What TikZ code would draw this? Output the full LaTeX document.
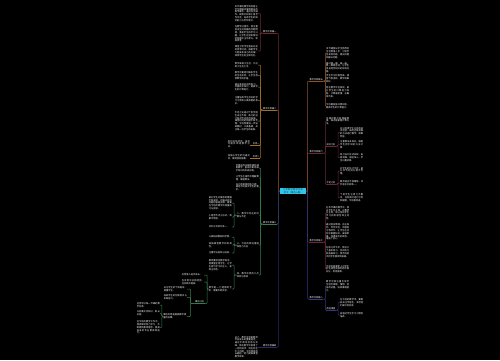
\documentclass[tikz,border=0pt]{standalone}
\usepackage{fontspec}
\newfontfamily\cjk{Noto Sans CJK SC}
\XeTeXlinebreaklocale "zh"
\XeTeXlinebreakskip=0pt plus 0.6pt
\definecolor{cA}{HTML}{6E2A2A}
\definecolor{cB}{HTML}{A0702A}
\definecolor{cC}{HTML}{357F4E}
\definecolor{cD}{HTML}{2A2A66}
\definecolor{cRA}{HTML}{8E5228}
\definecolor{cRB}{HTML}{662836}
\definecolor{cRC}{HTML}{702242}
\definecolor{cRD}{HTML}{363684}
\definecolor{ctrbg}{HTML}{2EC8EE}
\tikzset{
 blk/.style={text width=23pt, align=justify, inner sep=0pt, font=\cjk\fontsize{2.25}{2.8}\selectfont, text=white},
 lab/.style={inner sep=0.4pt, font=\cjk\fontsize{2.2}{2.8}\selectfont, text=white},
 ln/.style={line width=0.5pt, rounded corners=0.8pt},
}
\begin{document}
\begin{tikzpicture}[x=1pt,y=-1pt]
\fill[black] (0,0) rectangle (500,360);
\useasboundingbox (0,0) rectangle (500,360);

% centre
\node[fill=ctrbg, text width=24pt, align=center, inner sep=1pt, font=\cjk\fontsize{2.2}{2.8}\selectfont, text=black!85] (ctr) at (293,191) {小学数学教学反思范文（精选8篇）};

% ---------- left group A ----------
\node[lab, anchor=south east] (LA) at (277,33) {教学反思篇一};
\node[blk, anchor=east] (a1) at (258,13.5) {本节课的教学目标是让学生理解并掌握相关的数学概念，通过动手操作、观察比较和小组合作交流，培养学生的探究能力与合作意识。};
\node[blk, anchor=east] (a2) at (258,34) {在教学过程中，我注重创设生动有趣的问题情境，激发学生的学习兴趣，让学生在轻松愉快的氛围中主动参与、积极思考。};
\node[blk, anchor=east] (a3) at (258,51) {课堂上给学生留出充足的思考时间，鼓励学生大胆发表自己的见解，体现学生的主体地位。};

% ---------- left group B ----------
\node[lab, anchor=south east] (LB) at (277,110) {教学反思篇二};
\node[blk, anchor=east] (b1) at (258,65) {数学来源于生活，又应用于生活之中。};
\node[blk, anchor=east] (b2) at (258,75.5) {教学中要密切联系学生的生活实际，让学生感受数学的价值。};
\node[blk, anchor=east] (b3) at (258,87) {通过多种形式的练习，巩固所学知识，提高学生的计算能力。};
\node[blk, anchor=east] (b4) at (258,100.5) {注重培养学生良好的学习习惯和认真审题的意识。};
\node[blk, anchor=east] (b5) at (258,121) {不足之处是对个别学困生关注不够，练习的设计层次性还有待加强，课堂时间的把握不够合理。今后我要进一步钻研教材，认真备课，关注每一位学生的发展。};
\node[lab, anchor=south east] (b6) at (260,145) {反思一};
\node[blk, text width=22pt, anchor=east] (b6c) at (250,144) {及时总结经验，发现问题并改进教学方法。};
\node[lab, anchor=south east] (b7) at (260,158) {反思二};
\node[blk, text width=22pt, anchor=east] (b7c) at (250,157) {加强与学生的沟通交流，做到因材施教。};

% ---------- left group C ----------
\node[lab, anchor=south east] (LC) at (277,224) {教学反思篇三};
\node[blk, anchor=east] (c1) at (259,168) {合理运用多媒体课件辅助教学，直观形象地展示知识的形成过程。};
\node[blk, anchor=east] (c2) at (259,178) {让学生在操作中理解算理，掌握算法。};
\node[blk, anchor=east] (c3) at (259,187) {设计有梯度的练习题，满足不同层次学生的需求。};
\node[blk, text width=22pt, anchor=east] (c4) at (259,215) {二、教学中存在的问题与不足};
\node[blk, anchor=east] (c41) at (232,203) {部分学生对概念的理解不够深刻，在解决实际问题时容易出错，需要在今后的教学中加强练习与指导。};
\node[blk, anchor=east] (c42) at (232,217) {小组合作流于形式，效果不明显。};
\node[blk, anchor=east] (c43) at (232,227) {评价方式较为单一。};
\node[blk, text width=22pt, anchor=east] (c5) at (259,245) {三、今后的改进措施和努力方向};
\node[blk, anchor=east] (c51) at (232,237) {认真钻研教材和学情。};
\node[blk, anchor=east] (c52) at (232,245) {加强课堂教学的有效性。};
\node[blk, anchor=east] (c53) at (232,253) {注重学法指导与培养。};
\node[blk, text width=22pt, anchor=east] (c6) at (259,275) {四、教学反思的几点体会与收获};
\node[blk, anchor=east] (c61) at (232,265) {教师要转变教学观念，把课堂还给学生，让学生成为学习的主人，发挥主动性。};
\node[blk, anchor=east] (c62) at (232,289) {教学是一门遗憾的艺术，需要不断反思。};
\node[blk, text width=22pt, anchor=east] (c621) at (204,275) {反思使人进步成长。};
\node[blk, text width=22pt, anchor=east] (c622) at (204,282) {在反思中总结经验，在实践中提高。};
\node[lab, anchor=south east] (c623) at (204.5,303.5) {课后小结};
\node[blk, anchor=east] (e1) at (187,289) {关注学生的个体差异，尊重学生。};
\node[blk, anchor=east] (e2) at (187,297.5) {培养学生的创新意识与实践能力。};
\node[blk, anchor=east] (e3) at (186.5,316.5) {课后反思是提高教学质量的关键。};
\node[blk, anchor=east] (f1) at (160,305) {坚持写好每一节课的教学反思。};
\node[blk, anchor=east] (f2) at (160,313.5) {与同事交流研讨，取长补短。};
\node[blk, anchor=east] (f3) at (160,327.5) {在今后的教学工作中，我将继续努力学习，不断更新教育理念，提高自身的专业素养和能力。};

% ---------- left group D ----------
\node[lab, anchor=south east] (LD) at (277,347) {教学反思篇四};
\node[blk, anchor=east] (d1) at (258,347) {总之，教学反思是教师专业成长的重要途径，通过不断地反思与实践，我在教学中取得了一定的进步，但也存在不少问题，今后我将扬长避短，努力提高课堂教学效率。};

% ---------- right group RA ----------
\node[lab, anchor=south west] (RA) at (309,81) {教学反思篇五};
\node[blk, anchor=west] (ra1) at (326,53) {本节课我从学生熟悉的生活情境入手，引导学生发现问题、提出问题并解决问题。};
\node[blk, anchor=west] (ra2) at (326,67.5) {通过摆一摆、画一画、算一算等活动，让学生亲身经历知识的形成过程。};
\node[blk, anchor=west] (ra3) at (326,78.5) {学生学习积极性高，课堂气氛活跃，教学效果较好。};
\node[blk, anchor=west] (ra4) at (326,92) {但在教学中也发现，部分学生的口算能力较弱，计算速度慢，正确率不高。};
\node[blk, anchor=west] (ra5) at (326,106.5) {今后要加强口算训练，提高学生的计算能力。};

% ---------- right group RB ----------
\node[lab, anchor=south west] (RB) at (309,153) {教学反思篇六};
\node[blk, anchor=west] (rb1) at (326,121) {本课的重点是理解算理，难点是掌握计算方法。};
\node[lab, anchor=south west] (rb2) at (326,146) {成功之处};
\node[blk, anchor=west] (rb21) at (340,132.5) {充分利用学生已有的知识经验，采用迁移类推的方法进行教学，效果明显。};
\node[blk, anchor=west] (rb22) at (340,144.5) {注重算法多样化，鼓励学生用不同的方法计算。};
\node[blk, anchor=west] (rb23) at (340,157.5) {练习设计形式多样，由易到难，层层深入，学生兴趣浓厚。};
\node[lab, anchor=south west] (rb3) at (326,184) {不足之处};
\node[blk, anchor=west] (rb31) at (340,171) {对学生的估计不足，部分环节时间分配不合理。};
\node[blk, anchor=west] (rb32) at (340,183) {教师语言不够精练，评价语言比较单一。};
\node[blk, anchor=west] (rb33) at (340,197.5) {个别学生注意力不集中，没有及时进行引导和提醒，今后需改进。};

% ---------- right group RC ----------
\node[lab, anchor=south west] (RC) at (309,242) {教学反思篇七};
\node[blk, anchor=west] (rc1) at (326,213) {在本节课的教学中，我以学生为主体，以教师为主导，充分调动学生学习的积极性和主动性。};
\node[blk, anchor=west] (rc2) at (326,232) {通过创设情境、自主探究、合作交流、巩固练习等环节，让学生在活动中掌握知识，发展思维，获得成功的体验，增强了信心。};
\node[blk, anchor=west] (rc3) at (326,252) {在练习环节中，我设计了基本练习、变式练习和拓展练习，使不同层次的学生都得到发展。};
\node[blk, anchor=west] (rc4) at (326,269) {不足的是课堂上对学生的生成性资源利用不够充分，有待提高。};

% ---------- right group RD ----------
\node[lab, anchor=south west] (RD) at (309,299) {教学反思篇八};
\node[blk, anchor=west] (rd1) at (326,286) {教学中我注重引导学生经历观察、猜想、验证的过程，培养推理能力。};
\node[lab, anchor=south west] (rd2) at (326,310) {改进措施};
\node[blk, anchor=west] (rd21) at (340,302.5) {在今后的教学中，要更加关注学困生，多给他们展示的机会。};
\node[blk, anchor=west] (rd22) at (340,315) {加强对学生学习习惯的培养。};

% ================= connectors =================
% trunk
\draw[ln,cB] (ctr.west) -- ++(-1.5,0) |- (LB.south east);
\draw[ln,cA] (ctr.west) -- ++(-1.5,0) |- (LA.south east);
\draw[ln,cC] (ctr.west) -- ++(-1.5,0) |- (LC.south east);
\draw[ln,cD] (ctr.west) -- ++(-1.5,0) |- (LD.south east);
\draw[ln,cRB] (ctr.east) -- ++(1.5,0) |- (RB.south west);
\draw[ln,cRA] (ctr.east) -- ++(1.5,0) |- (RA.south west);
\draw[ln,cRC] (ctr.east) -- ++(1.5,0) |- (RC.south west);
\draw[ln,cRD] (ctr.east) -- ++(1.5,0) |- (RD.south west);

% label underlines
\foreach \n/\c in {LA/cA,LB/cB,LC/cC,LD/cD,b6/cB,b7/cB,c623/cC,RA/cRA,RB/cRB,RC/cRC,RD/cRD,rb2/cRB,rb3/cRB,rd2/cRD}
  \draw[ln,\c] (\n.south west) -- (\n.south east);

% left children
\foreach \k in {a1,a2,a3} \draw[ln,cA] (LA.south west) -- ++(-2,0) |- (\k.east);
\foreach \k in {b1,b2,b3,b4,b5} \draw[ln,cB] (LB.south west) -- ++(-2,0) |- (\k.east);
\foreach \k in {b6,b7} \draw[ln,cB] (LB.south west) -- ++(-2,0) |- (\k.south east);
\draw[ln,cB] (b6.south west) -- (b6c.east |- b6.south west);
\draw[ln,cB] (b7.south west) -- (b7c.east |- b7.south west);
\foreach \k in {c1,c2,c3,c4,c5,c6} \draw[ln,cC] (LC.south west) -- ++(-2,0) |- (\k.east);
\foreach \k in {c41,c42,c43} \draw[ln,cC] (c4.west) -- ++(-2.5,0) |- (\k.east);
\foreach \k in {c51,c52,c53} \draw[ln,cC] (c5.west) -- ++(-2.5,0) |- (\k.east);
\foreach \k in {c61,c62} \draw[ln,cC] (c6.west) -- ++(-2.5,0) |- (\k.east);
\foreach \k in {c621,c622} \draw[ln,cC] (c62.west) -- ++(-1.5,0) |- (\k.east);
\draw[ln,cC] (c62.west) -- ++(-1.5,0) |- (c623.south east);
\foreach \k in {e1,e2,e3} \draw[ln,cC] (c623.south west) -- ++(-4,0) |- (\k.east);
\foreach \k in {f1,f2,f3} \draw[ln,cC] (e3.west) -- ++(-1.2,0) |- (\k.east);
\draw[ln,cD] (LD.south west) -- (d1.east |- LD.south west);

% right children
\foreach \k in {ra1,ra2,ra3,ra4,ra5} \draw[ln,cRA] (RA.south east) -- ++(2,0) |- (\k.west);
\draw[ln,cRB] (RB.south east) -- ++(2,0) |- (rb1.west);
\foreach \k in {rb2,rb3} \draw[ln,cRB] (RB.south east) -- ++(2,0) |- (\k.south west);
\foreach \k in {rb21,rb22,rb23} \draw[ln,cRB] (rb2.south east) -- ++(2,0) |- (\k.west);
\foreach \k in {rb31,rb32,rb33} \draw[ln,cRB] (rb3.south east) -- ++(2,0) |- (\k.west);
\foreach \k in {rc1,rc2,rc3,rc4} \draw[ln,cRC] (RC.south east) -- ++(2,0) |- (\k.west);
\draw[ln,cRD] (RD.south east) -- ++(2,0) |- (rd1.west);
\draw[ln,cRD] (RD.south east) -- ++(2,0) |- (rd2.south west);
\foreach \k in {rd21,rd22} \draw[ln,cRD] (rd2.south east) -- ++(2,0) |- (\k.west);
\end{tikzpicture}
\end{document}
